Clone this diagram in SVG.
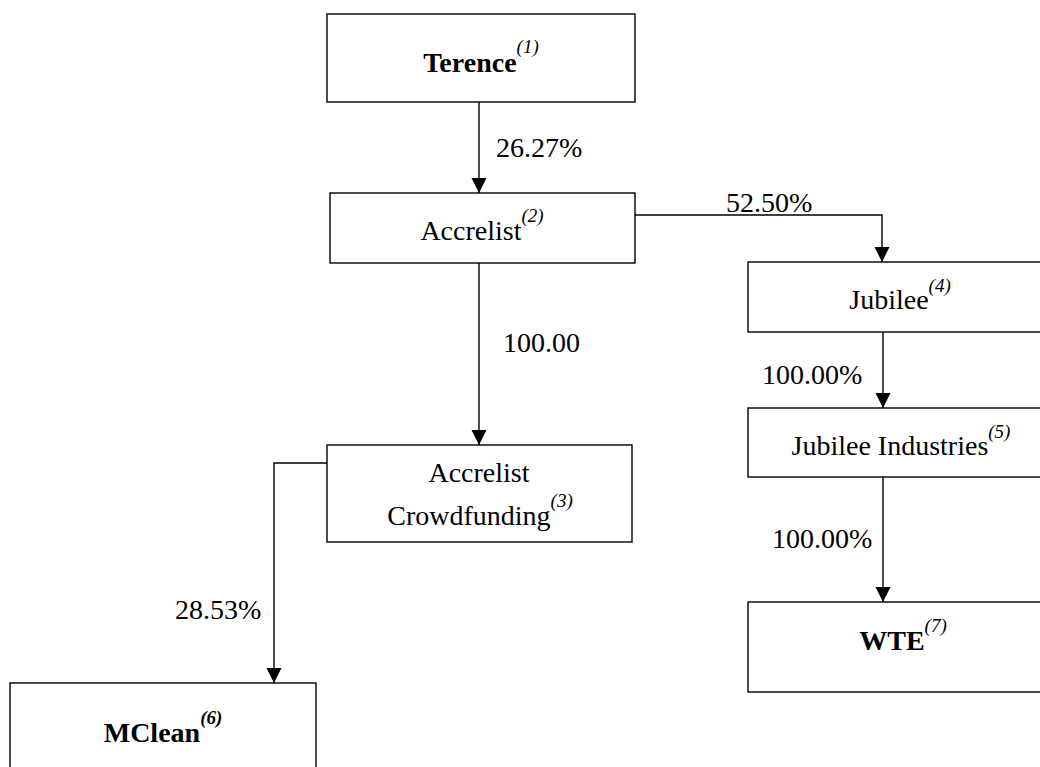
<svg xmlns="http://www.w3.org/2000/svg" width="1040" height="767" viewBox="0 0 1040 767">
<style>
.box{fill:#fff;stroke:#000;stroke-width:1.4}
.t{font-family:"Liberation Serif","Times New Roman",serif;font-size:28px;fill:#000}
.b{font-weight:bold}
.sup{font-size:19px;font-style:italic}
.ln{fill:none;stroke:#000;stroke-width:1.4}
</style>
<defs>
<marker id="ah" markerUnits="userSpaceOnUse" markerWidth="18" markerHeight="18" viewBox="0 0 18 18" refX="16" refY="9" orient="auto">
<path d="M1,1.5 L16,9 L1,16.5 Z" fill="#000"/>
</marker>
</defs>
<rect width="1040" height="767" fill="#fff"/>
<g id="connectors">
<line class="ln" x1="479" y1="102" x2="479" y2="193" marker-end="url(#ah)"/>
<line class="ln" x1="479" y1="263" x2="479" y2="445" marker-end="url(#ah)"/>
<path class="ln" d="M635 215 H882 V262" marker-end="url(#ah)"/>
<line class="ln" x1="883" y1="332" x2="883" y2="408" marker-end="url(#ah)"/>
<line class="ln" x1="883" y1="477" x2="883" y2="602" marker-end="url(#ah)"/>
<path class="ln" d="M327 463 H274 V683" marker-end="url(#ah)"/>
<text class="t" x="496" y="157">26.27%</text>
<text class="t" x="503" y="352">100.00</text>
<text class="t" x="726" y="212">52.50%</text>
<text class="t" x="762" y="384">100.00%</text>
<text class="t" x="772" y="548">100.00%</text>
<text class="t" x="175" y="619">28.53%</text>
</g>
<g id="terence">
<rect class="box" x="327" y="14" width="308" height="88"/>
<text class="t b" x="481" y="72" text-anchor="middle">Terence<tspan class="sup" font-weight="normal" dy="-19">(1)</tspan></text>
</g>
<g id="accrelist">
<rect class="box" x="330" y="193" width="305" height="70"/>
<text class="t" x="482" y="240" text-anchor="middle">Accrelist<tspan class="sup" dy="-18">(2)</tspan></text>
</g>
<g id="crowdfunding">
<rect class="box" x="327" y="445" width="305" height="97"/>
<text class="t" x="479" y="482" text-anchor="middle">Accrelist</text>
<text class="t" x="480" y="525" text-anchor="middle">Crowdfunding<tspan class="sup" dy="-18">(3)</tspan></text>
</g>
<g id="jubilee">
<rect class="box" x="748" y="262" width="310" height="70"/>
<text class="t" x="900" y="309" text-anchor="middle">Jubilee<tspan class="sup" dy="-17">(4)</tspan></text>
</g>
<g id="jubilee-industries">
<rect class="box" x="748" y="408" width="310" height="69"/>
<text class="t" x="901" y="455" text-anchor="middle">Jubilee Industries<tspan class="sup" dy="-17">(5)</tspan></text>
</g>
<g id="wte">
<rect class="box" x="748" y="602" width="310" height="90"/>
<text class="t b" x="903" y="650" text-anchor="middle">WTE<tspan class="sup" font-weight="normal" dy="-18">(7)</tspan></text>
</g>
<g id="mclean">
<rect class="box" x="10" y="683" width="306" height="100"/>
<text class="t b" x="163" y="742" text-anchor="middle">MClean<tspan class="sup" dy="-18">(6)</tspan></text>
</g>
</svg>
